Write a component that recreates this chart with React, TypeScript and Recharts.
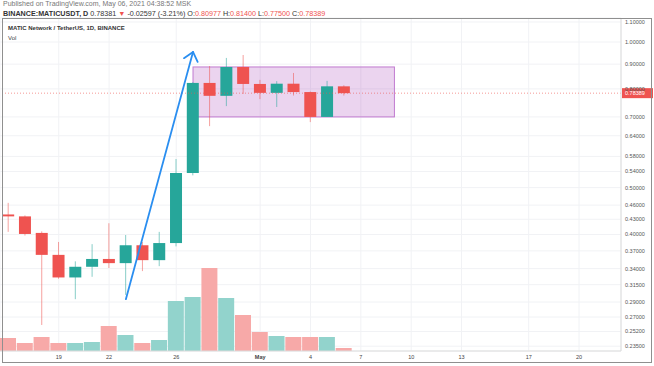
import React from "react";
import { ComposedChart, Bar, XAxis, YAxis, CartesianGrid, ReferenceArea, ReferenceLine, Cell } from "recharts";

// one category per day, Apr 16 .. May 22 (future days stay empty)
const days = [
  "Apr 16", "Apr 17", "Apr 18", "Apr 19", "Apr 20", "Apr 21", "Apr 22", "Apr 23", "Apr 24", "Apr 25",
  "Apr 26", "Apr 27", "Apr 28", "Apr 29", "Apr 30", "May 1", "May 2", "May 3", "May 4", "May 5",
  "May 6", "May 7", "May 8", "May 9", "May 10", "May 11", "May 12", "May 13", "May 14", "May 15",
  "May 16", "May 17", "May 18", "May 19", "May 20", "May 21", "May 22",
];

const opens = [0.44, 0.436, 0.403, 0.363, 0.326, 0.343, 0.356, 0.349, 0.38, 0.354, 0.384, 0.536, 0.823, 0.774, 0.888, 0.819, 0.785, 0.82, 0.788, 0.7, 0.80977];
const highs = [0.465, 0.438, 0.406, 0.386, 0.352, 0.382, 0.422, 0.399, 0.386, 0.405, 0.573, 0.826, 0.892, 0.927, 0.94, 0.835, 0.83, 0.863, 0.79, 0.831, 0.814];
const lows = [0.405, 0.398, 0.26, 0.324, 0.294, 0.327, 0.341, 0.3, 0.336, 0.344, 0.378, 0.53, 0.67, 0.737, 0.781, 0.762, 0.734, 0.775, 0.683, 0.7, 0.775];
const closes = [0.436, 0.401, 0.363, 0.326, 0.343, 0.356, 0.349, 0.38, 0.354, 0.384, 0.536, 0.823, 0.774, 0.888, 0.819, 0.785, 0.82, 0.788, 0.7, 0.8098, 0.78389];
// volume, millions
const volumes = [130, 80, 140, 80, 80, 90, 250, 160, 80, 110, 500, 540, 830, 530, 360, 190, 150, 140, 140, 140, 30];

const priceTicks = [1.1, 1.0, 0.9, 0.8, 0.7, 0.64, 0.58, 0.54, 0.5, 0.46, 0.43, 0.4, 0.37, 0.34, 0.315, 0.29, 0.27, 0.252, 0.235];
const timeTicks = ["Apr 19", "Apr 22", "Apr 26", "May 1", "May 4", "May 7", "May 10", "May 13", "May 17", "May 20"];
const timeTickLabels = ["19", "22", "26", "May", "4", "7", "10", "13", "17", "20"];

const lastPrice = 0.78389;
const boxDays = ["Apr 27", "May 9"];
const boxPrices = [0.7, 0.888];
const arrowDays = ["Apr 23", "Apr 27"];
const arrowPrices = [0.294, 0.954];

const UP = "#26a69a";
const DOWN = "#ef5350";
const VOL_UP = "#92d3cc";
const VOL_DOWN = "#f7a9a8";

const rows = days.map((day, i) => {
  const has = i < opens.length;
  return {
    day,
    open: has ? opens[i] : null,
    high: has ? highs[i] : null,
    low: has ? lows[i] : null,
    close: has ? closes[i] : null,
    range: has ? [lows[i], highs[i]] : null,
    volume: has ? volumes[i] : null,
    up: has ? closes[i] >= opens[i] : false,
  };
});

function Candle(props: any) {
  const { x, y, width, height, payload } = props;
  if (!payload || payload.open == null || y == null || isNaN(y)) return null;
  const { open, close, high, low } = payload;
  const lh = Math.log(high);
  const ll = Math.log(low);
  const py = (v: number) => (lh === ll ? y : y + ((lh - Math.log(v)) / (lh - ll)) * height);
  const cx = x + width / 2;
  const color = close >= open ? UP : DOWN;
  const top = py(Math.max(open, close));
  const bot = py(Math.min(open, close));
  const bw = 12;
  return (
    <g>
      <line x1={cx} x2={cx} y1={y} y2={y + height} stroke={color} strokeOpacity={0.55} strokeWidth={1} />
      <rect x={cx - bw / 2} y={top} width={bw} height={Math.max(bot - top, 1.5)} fill={color} />
    </g>
  );
}

function BoxShape(props: any) {
  const { x, y, width, height } = props;
  const count = days.indexOf(boxDays[1]) - days.indexOf(boxDays[0]) + 1;
  const inset = width / (2 * count);
  return (
    <rect
      x={x + inset}
      y={y}
      width={width - 2 * inset}
      height={height}
      fill="#9c27b0"
      fillOpacity={0.2}
      stroke="#c17ad0"
      strokeWidth={1}
    />
  );
}

function Arrow(props: any) {
  const { x1, y1, x2, y2 } = props;
  const ang = Math.atan2(y2 - y1, x2 - x1) + Math.PI;
  const len = 11;
  const spread = 0.7;
  const ax = x2 + len * Math.cos(ang - spread);
  const ay = y2 + len * Math.sin(ang - spread);
  const bx = x2 + len * Math.cos(ang + spread);
  const by = y2 + len * Math.sin(ang + spread);
  return (
    <g fill="none" stroke="#2a8ef0" strokeWidth={1.8} strokeLinecap="round" strokeLinejoin="round">
      <line x1={x1} y1={y1} x2={x2} y2={y2} />
      <polyline points={`${ax},${ay} ${x2},${y2} ${bx},${by}`} />
    </g>
  );
}

function PriceTag(props: any) {
  const vb = props.viewBox || {};
  const x = (vb.x || 0) + (vb.width || 0);
  const y = vb.y || 0;
  return (
    <g>
      <rect x={x + 1} y={y - 5} width={31} height={10} fill={DOWN} />
      <text x={x + 4} y={y + 2} fontSize={5.5} fill="#fff" fontFamily="Liberation Sans, Arial, sans-serif">
        {lastPrice.toFixed(5)}
      </text>
    </g>
  );
}

function TimeTick(props: any) {
  const { x, y, payload } = props;
  const label = timeTickLabels[timeTicks.indexOf(payload.value)];
  return (
    <text
      x={x}
      y={y}
      dy="0.71em"
      textAnchor="middle"
      fontSize={5.5}
      fill="#444"
      fontWeight={label === "May" ? "bold" : "normal"}
      fontFamily="Liberation Sans, Arial, sans-serif"
    >
      {label}
    </text>
  );
}

export default function App() {
  const font = "Liberation Sans, Arial, sans-serif";
  return (
    <div style={{ position: "absolute", left: 0, top: 0, width: 654, height: 366, background: "#fff", fontFamily: font, overflow: "hidden" }}>
      <ComposedChart width={654} height={366} data={rows} margin={{ top: 18, right: 0, bottom: 3, left: 0 }}>
        <CartesianGrid xAxisId="main" yAxisId="price" stroke="#f1f2f5" strokeWidth={1} />
        <XAxis
          xAxisId="main"
          dataKey="day"
          ticks={timeTicks}
          interval={0}
          height={12}
          tickSize={0}
          tickMargin={4}
          tick={<TimeTick />}
          axisLine={{ stroke: "#dcdcdc" }}
        />
        <XAxis xAxisId="vol" dataKey="day" hide />
        <YAxis
          yAxisId="price"
          orientation="right"
          scale="log"
          domain={[0.2297, 1.1211]}
          allowDataOverflow
          ticks={priceTicks}
          interval={0}
          width={33}
          tickSize={0}
          tickMargin={4}
          tick={{ fontSize: 5.5, fill: "#555", fontFamily: font, textAnchor: "start" }}
          tickFormatter={(v: number) => v.toFixed(5)}
          axisLine={{ stroke: "#dcdcdc" }}
        />
        <YAxis yAxisId="vol" hide domain={[0, 3330]} />
        <Bar xAxisId="vol" yAxisId="vol" dataKey="volume" barSize={16} isAnimationActive={false}>
          {rows.map((r, i) => (
            <Cell key={i} fill={r.up ? VOL_UP : VOL_DOWN} />
          ))}
        </Bar>
        <ReferenceLine
          xAxisId="main"
          yAxisId="price"
          y={lastPrice}
          stroke={DOWN}
          strokeOpacity={0.6}
          strokeDasharray="1 2"
          label={(p: any) => <PriceTag {...p} />}
        />
        <Bar xAxisId="main" yAxisId="price" dataKey="range" shape={(p: any) => <Candle {...p} />} isAnimationActive={false} />
        <ReferenceArea
          xAxisId="main"
          yAxisId="price"
          x1={boxDays[0]}
          x2={boxDays[1]}
          y1={boxPrices[0]}
          y2={boxPrices[1]}
          shape={(p: any) => <BoxShape {...p} />}
        />
        <ReferenceLine
          xAxisId="main"
          yAxisId="price"
          segment={[
            { x: arrowDays[0], y: arrowPrices[0] },
            { x: arrowDays[1], y: arrowPrices[1] },
          ]}
          shape={(p: any) => <Arrow {...p} />}
        />
      </ComposedChart>

      <div style={{ position: "absolute", left: 2, top: 18, width: 648, height: 343, border: "1px solid #8f8f8f", pointerEvents: "none" }} />

      <div style={{ position: "absolute", left: 3, top: 0, fontSize: 7, color: "#777", whiteSpace: "nowrap" }}>
        Published on TradingView.com, May 06, 2021 04:38:52 MSK
      </div>
      <div style={{ position: "absolute", left: 3, top: 9, fontSize: 7.2, color: "#333", whiteSpace: "nowrap" }}>
        <b>BINANCE:MATICUSDT, D</b> 0.78381 <span style={{ color: DOWN }}>▼</span> -0.02597 (-3.21%) O:
        <span style={{ color: DOWN }}>0.80977</span> H:<span style={{ color: DOWN }}>0.81400</span> L:
        <span style={{ color: DOWN }}>0.77500</span> C:<span style={{ color: DOWN }}>0.78389</span>
      </div>
      <div style={{ position: "absolute", left: 8, top: 25, fontSize: 6, fontWeight: 600, color: "#333", whiteSpace: "nowrap" }}>
        MATIC Network / TetherUS, 1D, BINANCE
      </div>
      <div style={{ position: "absolute", left: 8, top: 35, fontSize: 6, color: "#444" }}>Vol</div>
    </div>
  );
}
